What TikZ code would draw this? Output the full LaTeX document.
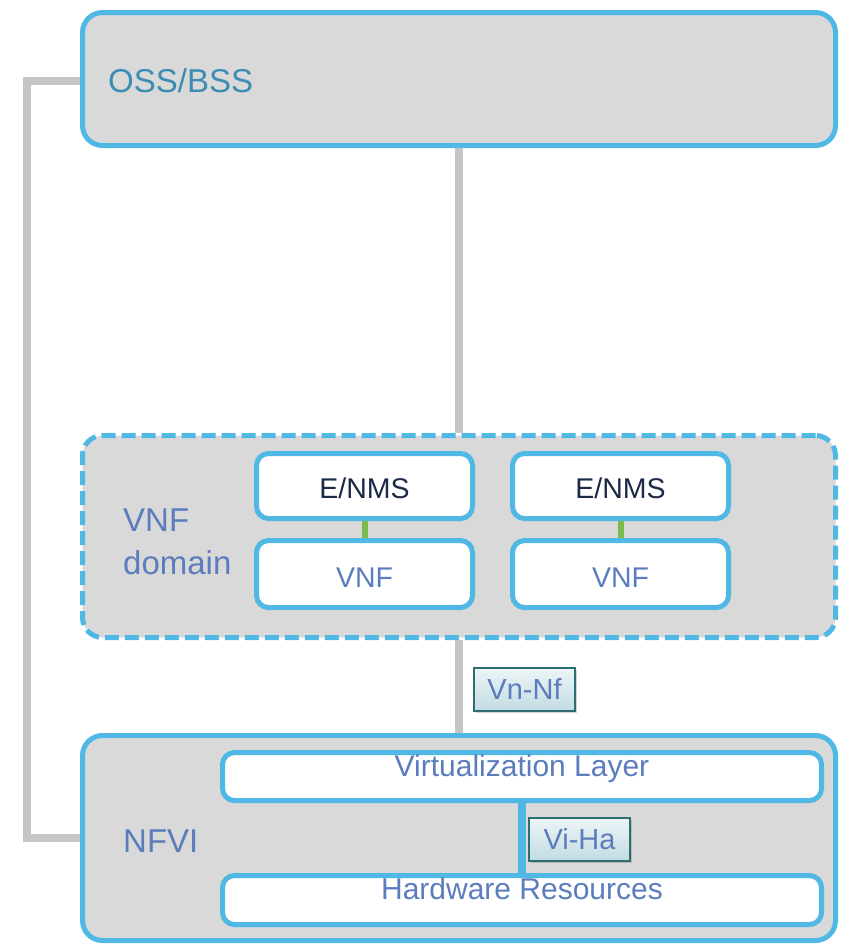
\documentclass[tikz,border=0pt]{standalone}
\usepackage{fontspec}
\setmainfont{Liberation Sans}
\usetikzlibrary{shadows,backgrounds}

\definecolor{frameblue}{HTML}{4FB8E4}
\definecolor{panelgray}{HTML}{D9D9D9}
\definecolor{wiregray}{HTML}{C6C6C6}
\definecolor{textblue}{HTML}{5B7DBD}
\definecolor{ossblue}{HTML}{3D8CB4}
\definecolor{navy}{HTML}{1C2A48}
\definecolor{linkgreen}{HTML}{7CBB4E}
\definecolor{tagedge}{HTML}{2E6E72}
\definecolor{tagtop}{HTML}{EDF5F7}
\definecolor{tagbottom}{HTML}{C3DCE3}

\tikzset{
  panel/.style={draw=frameblue, line width=5pt, fill=panelgray,
    rounded corners=20pt, inner sep=0pt, minimum width=753pt},
  subbox/.style={draw=frameblue, line width=5pt, fill=white,
    rounded corners=12pt, inner sep=0pt},
  wire/.style={draw=wiregray, line width=8pt},
  biglabel/.style={font=\fontsize{33}{38}\selectfont},
  boxlabel/.style={font=\fontsize{28.5}{34}\selectfont},
  layerlabel/.style={font=\fontsize{30}{34}\selectfont, text=textblue},
  tag/.style={draw=tagedge, line width=2pt, top color=tagtop, bottom color=tagbottom,
    minimum width=101pt, minimum height=43pt, inner sep=0pt,
    font=\fontsize{29}{34}\selectfont, text=textblue,
    drop shadow={opacity=0.35, shadow xshift=2pt, shadow yshift=-2pt}},
}

\begin{document}
\begin{tikzpicture}[x=1pt, y=-1pt]
  \useasboundingbox (0,0) rectangle (846,946);

  % management and infrastructure panels
  \node[panel, minimum height=133pt] (oss) at (459,79) {};
  \node[panel, minimum height=202pt, dash pattern=on 14pt off 6pt] (vnfdom) at (459,536.5) {};
  \node[panel, minimum height=205pt] (nfvi) at (459,838) {};

  % element managers and network functions
  \node[subbox, minimum width=216pt, minimum height=65pt] (enms1) at (364.5,486) {};
  \node[subbox, minimum width=216pt, minimum height=65pt] (enms2) at (620.5,486) {};
  \node[subbox, minimum width=216pt, minimum height=67pt] (vnf1) at (364.5,574) {};
  \node[subbox, minimum width=216pt, minimum height=67pt] (vnf2) at (620.5,574) {};

  % infrastructure layers
  \node[subbox, minimum width=599pt, minimum height=48pt] (virt) at (522,776.5) {};
  \node[subbox, minimum width=599pt, minimum height=49pt] (hw) at (522,900) {};

  % texts
  \node[biglabel, text=ossblue, anchor=base west, inner sep=0pt] (osstext) at (108,92) {OSS/BSS};
  \node[biglabel, text=textblue, anchor=base west, inner sep=0pt] (vnftext) at (123,531) {VNF};
  \node[biglabel, text=textblue, anchor=base west, inner sep=0pt] (domtext) at (123,574) {domain};
  \node[biglabel, text=textblue, anchor=base west, inner sep=0pt] (nfvitext) at (123,852) {NFVI};

  \node[boxlabel, text=navy, anchor=base, inner sep=0pt] (enmstext1) at (enms1.center |- 0,498) {E/NMS};
  \node[boxlabel, text=navy, anchor=base, inner sep=0pt] (enmstext2) at (enms2.center |- 0,498) {E/NMS};
  \node[boxlabel, text=textblue, anchor=base, inner sep=0pt] (vnflabel1) at (vnf1.center |- 0,587) {VNF};
  \node[boxlabel, text=textblue, anchor=base, inner sep=0pt] (vnflabel2) at (vnf2.center |- 0,587) {VNF};

  \node[layerlabel, anchor=base, inner sep=0pt] (virttext) at (virt.center |- 0,776) {Virtualization Layer};
  \node[layerlabel, anchor=base, inner sep=0pt] (hwtext) at (hw.center |- 0,899) {Hardware Resources};

  % connectors behind the panels
  \begin{scope}[on background layer]
    \draw[wire] (oss.west |- 0,81) -- (27,81) -- (27,838) -- (nfvi.west |- 0,838);
    \draw[wire] (oss.south) -- (vnfdom.north);
    \draw[wire] (vnfdom.south) -- (nfvi.north);
  \end{scope}

  \draw[draw=linkgreen, line width=6pt] (enms1.south) -- (vnf1.north);
  \draw[draw=linkgreen, line width=6pt] (enms2.south) -- (vnf2.north);
  \draw[draw=frameblue, line width=8pt, shorten <=-2pt, shorten >=-2pt] (virt.south) -- (hw.north);

  % reference point tags
  \node[tag] (vnnf) at (524.5,689) {Vn-Nf};
  \node[tag] (viha) at (579.5,839) {Vi-Ha};
\end{tikzpicture}
\end{document}
